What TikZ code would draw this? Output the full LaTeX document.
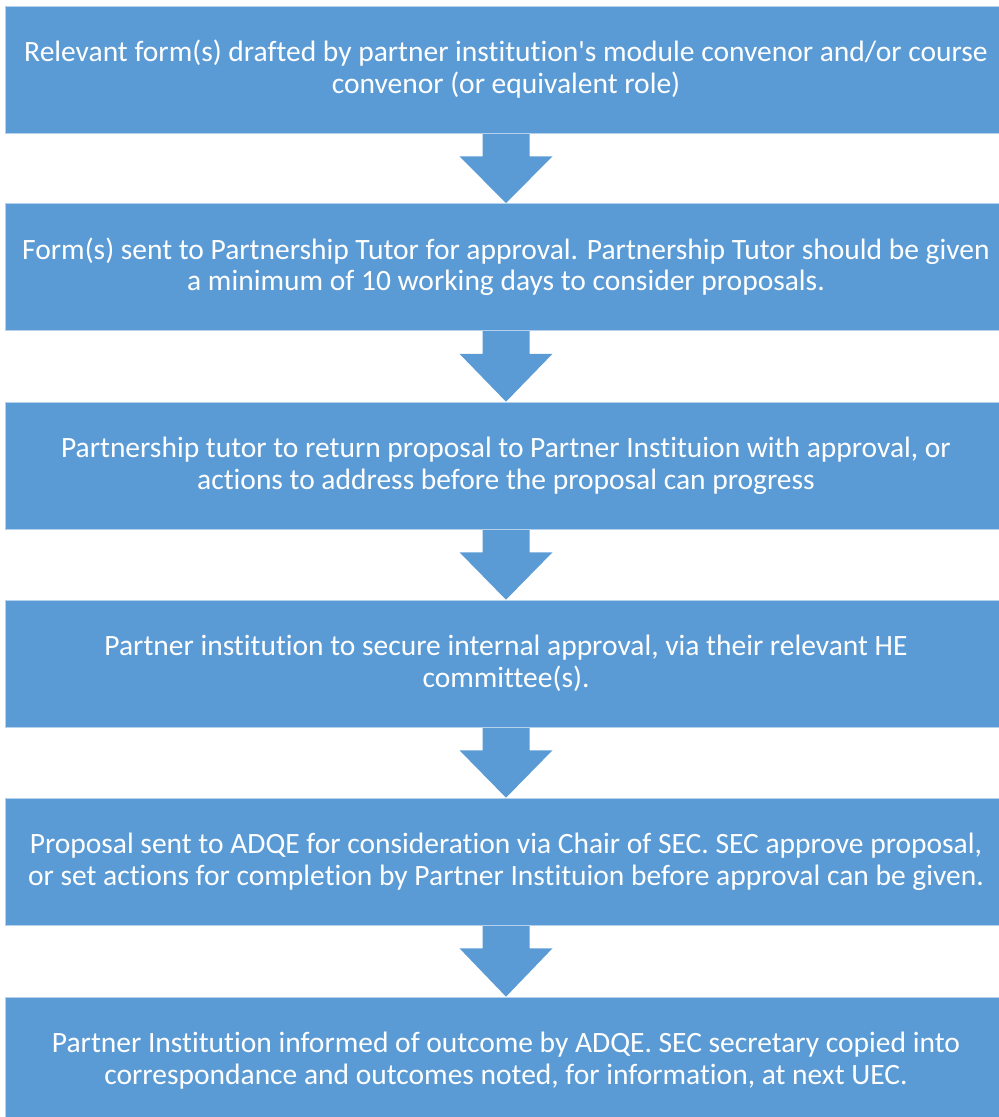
\documentclass[tikz,border=0pt]{standalone}
\usepackage{fontspec}
\setmainfont{Carlito}[Ligatures={NoCommon,TeXOff}]
\usetikzlibrary{calc,backgrounds}
\definecolor{boxblue}{HTML}{5B9BD5}
\tikzset{
  stepbox/.style={fill=boxblue, draw=white!55!boxblue, line width=0.6pt, text=white,
    minimum width=1002pt, minimum height=127pt,
    inner sep=0pt, align=center, text height=47pt, text depth=0pt,
    font=\fontsize{29.5pt}{31.5pt}\selectfont},
  arrowfill/.style={fill=boxblue, draw=none}
}
\newcommand{\blockarrow}[2]{%
  \path[arrowfill] let \p1=(#1.south), \p2=(#2.north) in
    (\x1-23.5pt,\y1) -- (\x1-23.5pt,\y1-23pt) -- (\x1-46.5pt,\y1-23pt) -- (\x1,\y2) --
    (\x1+46.5pt,\y1-23pt) -- (\x1+23.5pt,\y1-23pt) -- (\x1+23.5pt,\y1) -- cycle;}
\begin{document}
\begin{tikzpicture}[x=1pt,y=-1pt]
\useasboundingbox (0,0) rectangle (999,1117);
\clip (0,0) rectangle (999,1117);
\node[stepbox] (b1) at (506,69.5) {Relevant form(s) drafted by partner institution's module convenor and/or course\\convenor (or equivalent role)};
\node[stepbox] (b2) at (506,267) {Form(s) sent to Partnership Tutor for approval. Partnership Tutor should be given\\a minimum of 10 working days to consider proposals.};
\node[stepbox] (b3) at (506,465.5) {Partnership tutor to return proposal to Partner Instituion with approval, or\\actions to address before the proposal can progress};
\node[stepbox] (b4) at (506,663.5) {Partner institution to secure internal approval, via their relevant HE\\committee(s).};
\node[stepbox] (b5) at (506,861.5) {Proposal sent to ADQE for consideration via Chair of SEC. SEC approve proposal,\\or set actions for completion by Partner Instituion before approval can be given.};
\node[stepbox] (b6) at (506,1060.5) {Partner Institution informed of outcome by ADQE. SEC secretary copied into\\correspondance and outcomes noted, for information, at next UEC.};
\begin{scope}[on background layer]
\blockarrow{b1}{b2}
\blockarrow{b2}{b3}
\blockarrow{b3}{b4}
\blockarrow{b4}{b5}
\blockarrow{b5}{b6}
\end{scope}
\end{tikzpicture}
\end{document}
